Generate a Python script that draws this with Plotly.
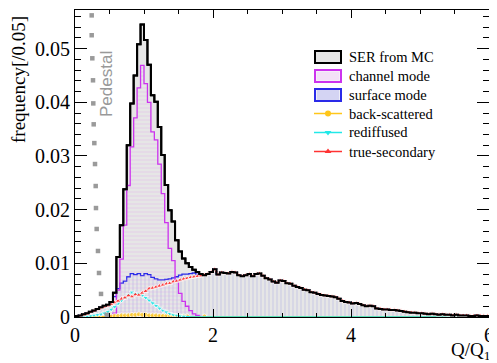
import numpy as np
import plotly.graph_objects as go

# ---- data (bin width 0.05 in Q/Q1, 120 bins from 0 to 6) ----
bin_lo = np.round(np.arange(120) * 0.05, 2)

ser_from_mc = [
    0.0002, 0.0003, 0.0005, 0.0007, 0.0010, 0.0012, 0.0015, 0.0018, 0.0021, 0.0023,
    0.0028, 0.0045, 0.0112, 0.0171, 0.0238, 0.0320, 0.0398, 0.0450, 0.0508, 0.0545,
    0.0516, 0.0470, 0.0413, 0.0401, 0.0354, 0.0302, 0.0246, 0.0199, 0.0178, 0.0143,
    0.0122, 0.0109, 0.0100, 0.0093, 0.0088, 0.0084, 0.0080, 0.0078, 0.0080, 0.0084,
    0.0089, 0.0079, 0.0083, 0.0082, 0.0081, 0.0084, 0.0083, 0.0078, 0.0076, 0.0078,
    0.0080, 0.0076, 0.0080, 0.0081, 0.0077, 0.0072, 0.0070, 0.0066, 0.0064, 0.0068,
    0.0067, 0.0063, 0.0062, 0.0058, 0.0056, 0.0054, 0.0051, 0.0050, 0.0046, 0.0045,
    0.0043, 0.0041, 0.0040, 0.0039, 0.0038, 0.0037, 0.0034, 0.0030, 0.0028, 0.0027,
    0.0025, 0.0026, 0.0024, 0.0022, 0.0020, 0.0021, 0.0020, 0.0016, 0.0015, 0.0014,
    0.0014, 0.0013, 0.0013, 0.0012, 0.0011, 0.0010, 0.0009, 0.0008, 0.0008, 0.0007,
    0.0007, 0.0006, 0.0005, 0.0006, 0.0005, 0.0004, 0.0005, 0.0004, 0.0004, 0.0003,
    0.0004, 0.0003, 0.0003, 0.0003, 0.0002, 0.0002, 0.0003, 0.0002, 0.0002, 0.0002,
]

channel_mode = [
    0, 0, 0, 0, 0, 0, 0, 0, 0, 0,
    0.0002, 0.0007, 0.0050, 0.0108, 0.0171, 0.0245, 0.0317, 0.0371, 0.0427, 0.0469,
    0.0435, 0.0400, 0.0345, 0.0330, 0.0285, 0.0230, 0.0176, 0.0128, 0.0105, 0.0068,
    0.0044, 0.0029, 0.0020, 0.0012, 0.0006, 0.0003, 0.0001, 0, 0, 0,
] + [0] * 80

surface_head = [
    0.0002, 0.0003, 0.0005, 0.0007, 0.0010, 0.0012, 0.0015, 0.0018, 0.0021, 0.0023,
    0.0026, 0.0038, 0.0053, 0.0063, 0.0067, 0.0075, 0.0081, 0.0079, 0.0081, 0.0077,
    0.0081, 0.0079, 0.0074, 0.0071, 0.0069, 0.0069, 0.0070, 0.0071, 0.0073, 0.0075,
    0.0078, 0.0080, 0.0080, 0.0081, 0.0082, 0.0080, 0.0079, 0.0078,
]
surface_mode = surface_head + ser_from_mc[38:]

back_scattered = [
    0, 0, 0, 0, 0, 0, 0, 0, 0, 0,
    0.0001, 0.0002, 0.0002, 0.0003, 0.0003, 0.0003, 0.0004, 0.0004, 0.0005, 0.0004,
    0.0004, 0.0003, 0.0003, 0.0003, 0.0002, 0.0002, 0.0002, 0.0002, 0.0001, 0.0001,
    0.0001, 0.0001, 0.0001, 0, 0, 0, 0, 0.0001, 0, 0,
] + [0] * 80

rediffused = [
    0, 0, 0.0001, 0.0001, 0.0002, 0.0003, 0.0004, 0.0005, 0.0007, 0.0010,
    0.0014, 0.0019, 0.0025, 0.0031, 0.0036, 0.0041, 0.0046, 0.0043, 0.0044, 0.0040,
    0.0036, 0.0031, 0.0026, 0.0021, 0.0016, 0.0012, 0.0009, 0.0006, 0.0004, 0.0003,
    0.0002, 0.0001, 0, 0, 0, 0, 0, 0, 0, 0,
] + [0] * 80

true_secondary_head = [
    0.0001, 0.0002, 0.0004, 0.0006, 0.0009, 0.0011, 0.0014, 0.0017, 0.0019, 0.0021,
    0.0024, 0.0027, 0.0030, 0.0034, 0.0036, 0.0040, 0.0038, 0.0042, 0.0041, 0.0045,
    0.0048, 0.0053, 0.0054, 0.0056, 0.0058, 0.0060, 0.0062, 0.0063, 0.0066, 0.0067,
    0.0069, 0.0071, 0.0072, 0.0074, 0.0075, 0.0076, 0.0077, 0.0078,
]
true_secondary = true_secondary_head + ser_from_mc[38:]

# pedestal tail (grey dotted) - dot positions
pedestal_q = [0.242, 0.242, 0.251, 0.261, 0.265, 0.271, 0.280, 0.290, 0.300,
              0.304, 0.314, 0.333, 0.348, 0.377, 0.460]
pedestal_y = [0.0562, 0.0525, 0.0482, 0.0441, 0.0398, 0.0359, 0.0324, 0.0285, 0.0244,
              0.0203, 0.0164, 0.0123, 0.0082, 0.0043, 0.0004]

y_ticks = [0, 0.01, 0.02, 0.03, 0.04, 0.05]
y_tick_text = ["0", "0.01", "0.02", "0.03", "0.04", "0.05"]
x_ticks = [0, 2, 4, 6]
x_tick_text = ["0", "2", "4", "6"]

legend_names = ["SER from MC", "channel mode", "surface mode",
                "back-scattered", "rediffused", "true-secondary"]

# ---- geometry (page body has an 8px default margin) ----
OFF = 8
W, H = 497 - OFF, 363 - OFF
ML, MR, MT = 75 - OFF, 8, 10 - OFF
MB = H - (317 - OFF)
PW, PH = W - ML - MR, H - MT - MB


def px(x):
    """page pixel x -> paper coordinate"""
    return (x - OFF - ML) / PW


def py(y):
    """page pixel y -> paper coordinate"""
    return (H - MB - (y - OFF)) / PH


step_x = list(bin_lo) + [6.0]
centers = list(bin_lo + 0.025)


def step_y(v):
    return list(v) + [v[-1]]


def msize(v, s):
    return [s if val > 0 else 0 for val in v]


SERIF = "Liberation Serif, Times New Roman, Times, serif"
SANS = "Liberation Sans, Arial, Helvetica, sans-serif"
C_BLACK, C_MAG, C_BLUE = "black", "#cc33ee", "#2a2ae8"
C_YEL, C_CYAN, C_RED = "#ffc61a", "#22e8e8", "#ff3333"

fig = go.Figure()

fig.add_trace(go.Scatter(
    x=step_x, y=step_y(ser_from_mc), mode="lines", line_shape="hv",
    fill="tozeroy", fillcolor="#e6e6e6", line=dict(color=C_BLACK, width=2),
    name=legend_names[0]))

fig.add_trace(go.Scatter(
    x=step_x, y=step_y(surface_mode), mode="lines", line_shape="hv",
    fill="tozeroy",
    fillpattern=dict(shape="|", fgcolor="rgba(120,120,225,0.55)", bgcolor="rgba(0,0,0,0)",
                     size=4, solidity=0.25),
    line=dict(color=C_BLUE, width=1.3), name=legend_names[2]))

fig.add_trace(go.Scatter(
    x=step_x, y=step_y(channel_mode), mode="lines", line_shape="hv",
    fill="tozeroy",
    fillpattern=dict(shape="-", fgcolor="rgba(225,140,240,0.55)", bgcolor="rgba(0,0,0,0)",
                     size=4, solidity=0.25),
    line=dict(color=C_MAG, width=1.3), name=legend_names[1]))

fig.add_trace(go.Scatter(
    x=centers, y=back_scattered, mode="lines+markers",
    line=dict(color=C_YEL, width=1.3),
    marker=dict(symbol="circle", size=msize(back_scattered, 5), color=C_YEL),
    name=legend_names[3]))

fig.add_trace(go.Scatter(
    x=centers, y=rediffused, mode="lines+markers",
    line=dict(color=C_CYAN, width=1.3),
    marker=dict(symbol="triangle-down", size=msize(rediffused, 5), color=C_CYAN),
    name=legend_names[4]))

fig.add_trace(go.Scatter(
    x=centers, y=true_secondary, mode="lines+markers",
    line=dict(color=C_RED, width=1.5),
    marker=dict(symbol="triangle-up", size=msize(true_secondary, 5), color=C_RED),
    name=legend_names[5]))

fig.add_trace(go.Scatter(
    x=step_x, y=step_y(ser_from_mc), mode="lines", line_shape="hv",
    line=dict(color=C_BLACK, width=2), hoverinfo="skip"))

fig.add_trace(go.Scatter(
    x=pedestal_q, y=pedestal_y, mode="markers",
    marker=dict(symbol="square", size=4.5, color="#9a9a9a"), name="Pedestal"))

# ---- manual legend (ROOT style) ----
shapes = []
box_rows = [(57, "#e6e6e6", C_BLACK), (76, "#f6eef9", C_MAG), (95, "#eeeef8", C_BLUE)]
for yc, fill, edge in box_rows:
    shapes.append(dict(type="rect", xref="paper", yref="paper",
                       x0=px(315), x1=px(341), y0=py(yc + 6), y1=py(yc - 6),
                       fillcolor=fill, line=dict(color=edge, width=2), layer="above"))
for xv in range(318, 340, 2):
    shapes.append(dict(type="line", xref="paper", yref="paper",
                       x0=px(xv), x1=px(xv), y0=py(100), y1=py(90),
                       line=dict(color="rgba(120,120,225,0.55)", width=0.8), layer="above"))
for y1 in range(73, 80, 2):
    shapes.append(dict(type="line", xref="paper", yref="paper",
                       x0=px(317), x1=px(339), y0=py(y1), y1=py(y1),
                       line=dict(color="rgba(225,140,240,0.45)", width=0.6), layer="above"))
line_rows = [(113.5, C_YEL), (132.5, C_CYAN), (151.5, C_RED)]
for yc, col in line_rows:
    shapes.append(dict(type="line", xref="paper", yref="paper",
                       x0=px(314), x1=px(342), y0=py(yc), y1=py(yc),
                       line=dict(color=col, width=1.5), layer="above"))

leg_mk = [("circle", C_YEL, 113.5), ("triangle-down", C_CYAN, 132.5), ("triangle-up", C_RED, 151.5)]
for sym, col, yc in leg_mk:
    fig.add_trace(go.Scatter(x=[px(328)], y=[py(yc)], xaxis="x2", yaxis="y2",
                             mode="markers", marker=dict(symbol=sym, size=6, color=col),
                             hoverinfo="skip"))

for name, yc in zip(legend_names, [57, 76, 95, 113.5, 132.5, 151.5]):
    fig.add_annotation(x=px(347), y=py(yc), xref="paper", yref="paper", text=name,
                       showarrow=False, xanchor="left", yanchor="middle",
                       font=dict(family=SERIF, size=14.5, color="black"))

fig.add_annotation(x=px(106), y=py(84), xref="paper", yref="paper", text="Pedestal",
                   textangle=-90, showarrow=False, xanchor="center", yanchor="middle",
                   font=dict(family=SANS, size=17, color="#999999"))

fig.add_annotation(x=px(18), y=py(80), xref="paper", yref="paper", text="frequency[/0.05]",
                   textangle=-90, showarrow=False, xanchor="center", yanchor="middle",
                   font=dict(family=SERIF, size=19, color="black"))

fig.add_annotation(x=px(492), y=py(351), xref="paper", yref="paper", text="Q/Q<sub>1</sub>",
                   showarrow=False, xanchor="right", yanchor="middle",
                   font=dict(family=SERIF, size=19, color="black"))

fig.update_layout(
    width=W, height=H,
    margin=dict(l=ML, r=MR, t=MT, b=MB, autoexpand=False),
    paper_bgcolor="white", plot_bgcolor="white",
    font=dict(family=SERIF, color="black"),
    showlegend=False,
    shapes=shapes,
    xaxis=dict(range=[0, 6], tickvals=x_ticks, ticktext=x_tick_text, automargin=False,
               ticks="inside", ticklen=8, tickwidth=1, tickcolor="black",
               minor=dict(dtick=0.5, ticks="inside", ticklen=4, tickcolor="black"),
               showline=True, linecolor="black", linewidth=1, mirror="allticks",
               showgrid=False, zeroline=False,
               tickfont=dict(family=SERIF, size=20)),
    yaxis=dict(range=[0, 0.0572], tickvals=y_ticks, ticktext=y_tick_text, automargin=False,
               ticks="inside", ticklen=12, tickwidth=1, tickcolor="black",
               minor=dict(dtick=0.002, ticks="inside", ticklen=6, tickcolor="black"),
               showline=True, linecolor="black", linewidth=1, mirror="allticks",
               showgrid=False, zeroline=False,
               tickfont=dict(family=SERIF, size=20)),
    xaxis2=dict(range=[0, 1], overlaying="x", visible=False, fixedrange=True),
    yaxis2=dict(range=[0, 1], overlaying="y", visible=False, fixedrange=True),
)

fig.write_html("out.html")
